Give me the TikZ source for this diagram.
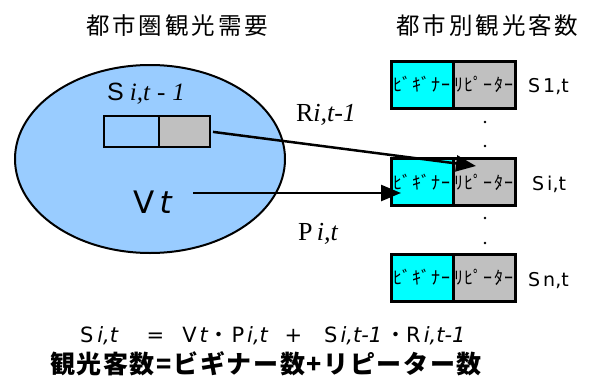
\documentclass[tikz,border=0pt]{standalone}
\usepackage{fontspec}
\setmainfont{Liberation Serif}
\setsansfont{DejaVu Sans}
\newfontfamily\jp{Noto Sans CJK JP}
\newfontfamily\lsans{Liberation Sans}
\usetikzlibrary{arrows.meta,shapes.geometric}
\definecolor{ellblue}{RGB}{153,204,255}
\definecolor{boxgray}{RGB}{192,192,192}
\definecolor{boxcyan}{RGB}{0,255,255}
\begin{document}
\begin{tikzpicture}[x=1pt,y=-1pt,
  every node/.style={inner sep=0pt, outer sep=0pt},
  title/.style={font=\jp\fontsize{23.5}{26}\selectfont},
  cell/.style={draw, line width=3pt, minimum width=62pt, minimum height=47pt, font=\jp\fontsize{18}{20}\selectfont},
  beg/.style={cell, fill=boxcyan},
  rep/.style={cell, fill=boxgray},
  slab/.style={font=\sffamily\fontsize{19}{22}\selectfont, anchor=base west},
  link/.style={line width=2.5pt, -{Triangle[length=20pt,width=16pt]}},
  dotp/.style={circle, fill=black, minimum size=2.8pt},
  ]
\useasboundingbox (0,0) rectangle (590,383);
\fill[white] (0,0) rectangle (590,383);
% titles
\node[title] (t1) at (177,26) {\makebox[182pt][s]{都\hfill 市\hfill 圏\hfill 観\hfill 光\hfill 需\hfill 要}};
\node[title] (t2) at (487.5,26) {\makebox[182pt][s]{都\hfill 市\hfill 別\hfill 観\hfill 光\hfill 客\hfill 数}};
% demand ellipse
\node[ellipse, draw, line width=2pt, fill=ellblue, minimum width=270pt, minimum height=188pt] (dem) at (150,159) {};
\node[font=\fontsize{25}{28}\selectfont] (slag) at (146,94) {{\lsans S}\hspace{6pt}\textit{i,t\hspace{7pt}-\hspace{7pt}1}};
\node[draw, line width=2pt, fill=ellblue, minimum width=55pt, minimum height=31pt] (s1) at (131.5,131.5) {};
\node[draw, line width=2pt, fill=boxgray, minimum width=51pt, minimum height=31pt] (s2) at (184.5,131.5) {};
\node[anchor=base, font=\sffamily\fontsize{31}{34}\selectfont] (vt) at (153,213) {V\hspace{5pt}\textit{t}};
% city boxes
\node[beg] (b1) at (422,84.5) {\makebox[57pt][s]{ﾋﾞ\hfill ｷﾞ\hfill ﾅ\hfill ｰ}};
\node[rep] (r1) at (484,84.5) {\makebox[59pt][s]{ﾘ\hfill ﾋﾟ\hfill ｰ\hfill ﾀ\hfill ｰ}};
\node[beg] (b2) at (422,182) {\makebox[57pt][s]{ﾋﾞ\hfill ｷﾞ\hfill ﾅ\hfill ｰ}};
\node[rep] (r2) at (484,182) {\makebox[59pt][s]{ﾘ\hfill ﾋﾟ\hfill ｰ\hfill ﾀ\hfill ｰ}};
\node[beg] (b3) at (422,277.5) {\makebox[57pt][s]{ﾋﾞ\hfill ｷﾞ\hfill ﾅ\hfill ｰ}};
\node[rep] (r3) at (484,277.5) {\makebox[59pt][s]{ﾘ\hfill ﾋﾟ\hfill ｰ\hfill ﾀ\hfill ｰ}};
\node[slab] (l1) at (528,92) {S\,1,t};
\node[slab] (l2) at (532,190) {S\,i,t};
\node[slab] (l3) at (528,286) {S\,n,t};
\node[dotp] (d1) at (485,122) {};
\node[dotp] (d2) at (485,146) {};
\node[dotp] (d3) at (485,218) {};
\node[dotp] (d4) at (485,243) {};
% arrows
\coordinate (q1) at (476,166);
\coordinate (p0) at (193,193);
\coordinate (p1) at (401,193);
\draw[link, shorten <=3pt] (s2.east) -- (q1);
\draw[link] (p0) -- (p1);
\node[font=\fontsize{26}{28}\selectfont, anchor=base west] (rl) at (296,121) {R\textit{i,t-1}};
\node[font=\fontsize{26}{28}\selectfont, anchor=base west] (pl) at (298,240) {P\,\textit{i,t}};
% formulas
\node[font=\sffamily\fontsize{21}{24}\selectfont, anchor=base west] (eq) at (80,342) {S\hspace{4pt}\textit{i,t}\hspace{28pt}=\hspace{18pt}V\hspace{3pt}\textit{t}{\jp ・}\hspace{2pt}P\hspace{3pt}\textit{i,t}\hspace{16pt}+\hspace{22pt}S\hspace{3pt}\textit{i,t-1}\hspace{3pt}{\jp ・}R\hspace{3pt}\textit{i,t-1}};
\node[font=\jp\bfseries\fontsize{25}{28}\selectfont] (sum) at (266,364) {\makebox[432pt][s]{観\hfill 光\hfill 客\hfill 数\hfill =\hfill ビ\hfill ギ\hfill ナ\hfill ー\hfill 数\hfill +\hfill リ\hfill ピ\hfill ー\hfill タ\hfill ー\hfill 数}};
\end{tikzpicture}
\end{document}
